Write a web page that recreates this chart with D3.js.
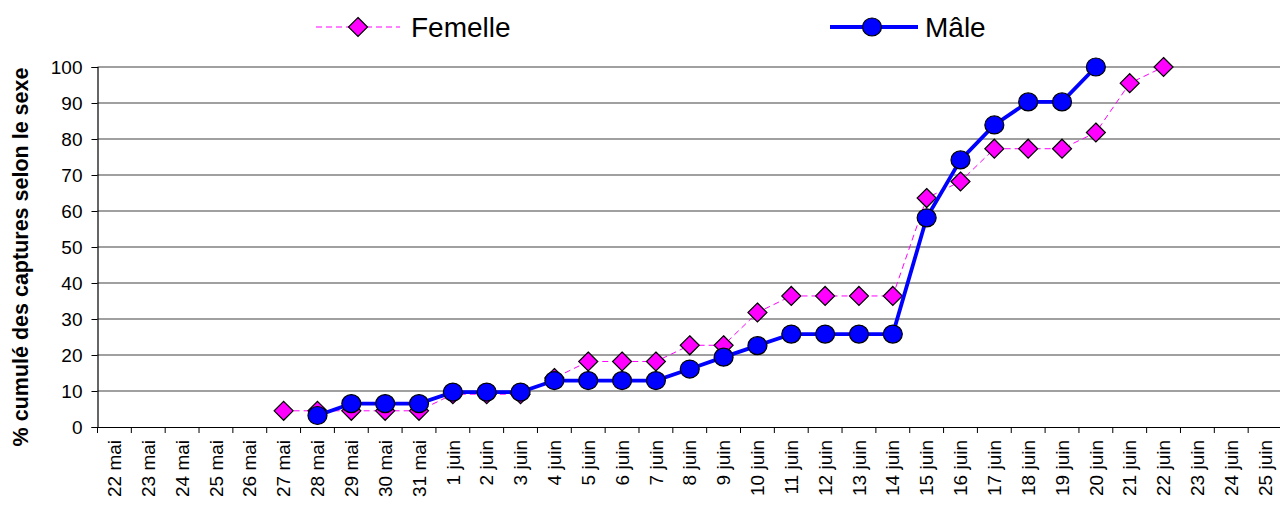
<!DOCTYPE html>
<html>
<head>
<meta charset="utf-8">
<script src="https://cdn.jsdelivr.net/npm/d3@7"></script>
<style>
  body { margin: 0; background: #fff; }
  svg { font-family: "Liberation Sans", Arial, sans-serif; }
</style>
</head>
<body>
<svg id="chart" width="1280" height="506"></svg>
<script>
// categories (days)
const days = ['22 mai', '23 mai', '24 mai', '25 mai', '26 mai', '27 mai', '28 mai', '29 mai', '30 mai', '31 mai',
  '1 juin', '2 juin', '3 juin', '4 juin', '5 juin', '6 juin', '7 juin', '8 juin', '9 juin', '10 juin',
  '11 juin', '12 juin', '13 juin', '14 juin', '15 juin', '16 juin', '17 juin', '18 juin', '19 juin', '20 juin',
  '21 juin', '22 juin', '23 juin', '24 juin', '25 juin'];

// Femelle, from 27 mai to 22 juin
const femelleDays = ['27 mai', '28 mai', '29 mai', '30 mai', '31 mai', '1 juin', '2 juin', '3 juin', '4 juin', '5 juin',
  '6 juin', '7 juin', '8 juin', '9 juin', '10 juin', '11 juin', '12 juin', '13 juin', '14 juin', '15 juin',
  '16 juin', '17 juin', '18 juin', '19 juin', '20 juin', '21 juin', '22 juin'];
const femelleValues = [4.5, 4.5, 4.5, 4.5, 4.5, 9.1, 9.1, 9.1, 13.6, 18.2,
  18.2, 18.2, 22.7, 22.7, 31.8, 36.4, 36.4, 36.4, 36.4, 63.6,
  68.2, 77.3, 77.3, 77.3, 81.8, 95.5, 100];

// Mâle, from 28 mai to 20 juin
const maleDays = ['28 mai', '29 mai', '30 mai', '31 mai', '1 juin', '2 juin', '3 juin', '4 juin', '5 juin', '6 juin',
  '7 juin', '8 juin', '9 juin', '10 juin', '11 juin', '12 juin', '13 juin', '14 juin', '15 juin', '16 juin',
  '17 juin', '18 juin', '19 juin', '20 juin'];
const maleValues = [3.2, 6.5, 6.5, 6.5, 9.7, 9.7, 9.7, 12.9, 12.9, 12.9,
  12.9, 16.1, 19.4, 22.6, 25.8, 25.8, 25.8, 25.8, 58.1, 74.2,
  83.9, 90.3, 90.3, 100];

const yTicks = [0, 10, 20, 30, 40, 50, 60, 70, 80, 90, 100];

const svg = d3.select('#chart');
const plotLeft = 97.5;
const plotRight = 1282;
const plotTop = 67;
const plotBottom = 427;

const x = d3.scaleBand().domain(days).range([plotLeft, plotRight]);
const y = d3.scaleLinear().domain([0, 100]).range([plotBottom, plotTop]);
const cx = d => x(d) + x.bandwidth() / 2;

// gridlines
svg.append('g')
  .selectAll('line')
  .data(yTicks.filter(t => t > 0))
  .enter().append('line')
  .attr('x1', plotLeft).attr('x2', 1280)
  .attr('y1', d => y(d)).attr('y2', d => y(d))
  .attr('stroke', '#808080')
  .attr('stroke-width', 1.3);

// y axis
const yAxis = svg.append('g')
  .attr('transform', `translate(${plotLeft},0)`)
  .call(d3.axisLeft(y).tickValues(yTicks).tickSize(6).tickPadding(9));
yAxis.select('.domain').attr('stroke', '#000').attr('stroke-width', 1.2);
yAxis.selectAll('.tick line').attr('stroke', '#000');
yAxis.selectAll('.tick text')
  .attr('font-size', 19)
  .attr('font-family', '"Liberation Sans", Arial, sans-serif')
  .attr('fill', '#000');

// x axis
const xAxis = svg.append('g')
  .attr('transform', `translate(0,${plotBottom})`)
  .call(d3.axisBottom(x).tickSize(0).tickSizeOuter(0));
xAxis.select('.domain').attr('stroke', '#000').attr('stroke-width', 1.2);
xAxis.selectAll('.tick text')
  .attr('font-size', 19)
  .attr('font-family', '"Liberation Sans", Arial, sans-serif')
  .attr('fill', '#000')
  .attr('transform', 'rotate(-90)')
  .attr('text-anchor', 'end')
  .attr('dy', '0.35em')
  .attr('x', -13)
  .attr('y', 0);

// tick marks between categories
svg.append('g')
  .selectAll('line')
  .data(d3.range(days.length + 1))
  .enter().append('line')
  .attr('x1', i => plotLeft + i * x.step())
  .attr('x2', i => plotLeft + i * x.step())
  .attr('y1', plotBottom).attr('y2', plotBottom + 6)
  .attr('stroke', '#000');

// y title
svg.append('text')
  .attr('transform', 'translate(28,257) rotate(-90)')
  .attr('text-anchor', 'middle')
  .attr('font-size', 21.5)
  .attr('font-weight', 'bold')
  .text('% cumulé des captures selon le sexe');

const femelle = femelleDays.map((d, i) => ({ day: d, value: femelleValues[i] }));
const male = maleDays.map((d, i) => ({ day: d, value: maleValues[i] }));

const line = d3.line().x(d => cx(d.day)).y(d => y(d.value));
const diamond = d3.symbol().type(d3.symbolDiamond2).size(230);

// Femelle
svg.append('path')
  .datum(femelle)
  .attr('d', line)
  .attr('fill', 'none')
  .attr('stroke', '#ff00ff')
  .attr('stroke-width', 1)
  .attr('stroke-dasharray', '6,4');
svg.append('g')
  .selectAll('path')
  .data(femelle)
  .enter().append('path')
  .attr('d', diamond)
  .attr('transform', d => `translate(${cx(d.day)},${y(d.value)})`)
  .attr('fill', '#ff00ff')
  .attr('stroke', '#000')
  .attr('stroke-width', 1.2);

// Mâle
svg.append('path')
  .datum(male)
  .attr('d', line)
  .attr('fill', 'none')
  .attr('stroke', '#0000ff')
  .attr('stroke-width', 3.8);
svg.append('g')
  .selectAll('ellipse')
  .data(male)
  .enter().append('ellipse')
  .attr('cx', d => cx(d.day))
  .attr('cy', d => y(d.value))
  .attr('rx', 9.5)
  .attr('ry', 9)
  .attr('fill', '#0000ff')
  .attr('stroke', '#000')
  .attr('stroke-width', 1.2);

// legend
const leg = svg.append('g');
leg.append('line')
  .attr('x1', 316).attr('x2', 400).attr('y1', 27).attr('y2', 27)
  .attr('stroke', '#ff00ff').attr('stroke-width', 1).attr('stroke-dasharray', '6,4');
leg.append('path')
  .attr('d', diamond)
  .attr('transform', 'translate(358,27)')
  .attr('fill', '#ff00ff').attr('stroke', '#000').attr('stroke-width', 1.2);
leg.append('text')
  .attr('x', 411).attr('y', 37)
  .attr('font-size', 28)
  .text('Femelle');

leg.append('line')
  .attr('x1', 830).attr('x2', 918).attr('y1', 27).attr('y2', 27)
  .attr('stroke', '#0000ff').attr('stroke-width', 3.8);
leg.append('ellipse')
  .attr('cx', 872).attr('cy', 27).attr('rx', 9.5).attr('ry', 9)
  .attr('fill', '#0000ff').attr('stroke', '#000').attr('stroke-width', 1.2);
leg.append('text')
  .attr('x', 925).attr('y', 37)
  .attr('font-size', 28)
  .text('Mâle');
</script>
</body>
</html>
